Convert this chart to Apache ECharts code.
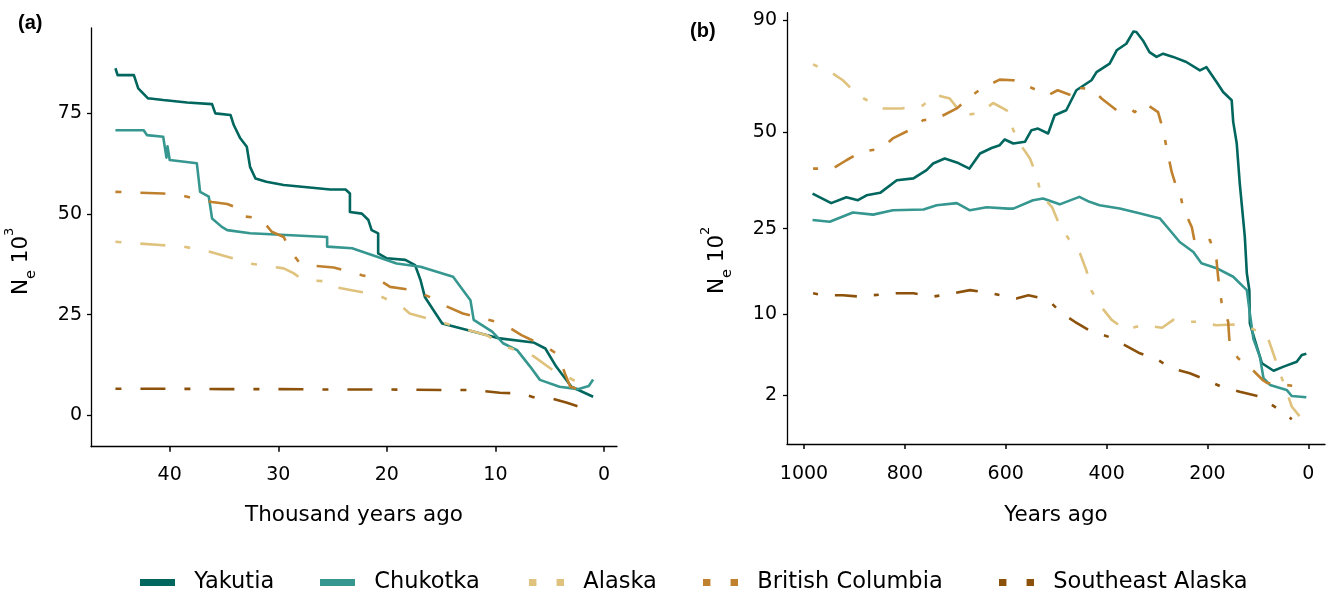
<!DOCTYPE html>
<html><head><meta charset="utf-8">
<script src="https://cdn.jsdelivr.net/npm/echarts@6/dist/echarts.min.js"></script>
<style>html,body{margin:0;padding:0;background:#fff}#c{width:1333px;height:593px}</style>
</head><body><div id="c"></div>
<script>
// ---------- Panel (a): thousand years ago vs Ne (x10^3) ----------
const aYakX = [45.0, 44.8, 43.3, 42.9, 42.0, 41.8, 40.6, 38.4, 36.1, 35.8, 34.4, 34.1, 33.5, 32.9, 32.6, 32.1, 31.1, 29.5, 25.2, 23.8, 23.4, 23.4, 22.3, 21.7, 21.4, 20.8, 20.8, 20.0, 18.3, 17.4, 16.9, 16.5, 14.9, 12.6, 9.6, 6.5, 5.4, 4.4, 3.0, 1.0];
const aYakY = [86.2, 84.5, 84.5, 81.2, 78.7, 78.7, 78.3, 77.7, 77.3, 75.0, 74.6, 72.1, 68.8, 66.7, 61.7, 58.8, 58.0, 57.2, 56.1, 56.1, 55.1, 50.5, 50.1, 48.5, 46.0, 45.2, 40.2, 39.0, 38.6, 37.3, 33.6, 29.4, 22.8, 21.2, 19.1, 18.1, 16.6, 12.1, 7.1, 4.6];
const aChuX = [45.0, 42.4, 42.1, 40.6, 40.3, 40.2, 40.0, 37.5, 37.2, 36.4, 36.1, 35.2, 34.7, 32.6, 25.5, 25.5, 23.2, 20.9, 19.1, 16.9, 13.9, 12.3, 12.0, 10.3, 9.3, 8.0, 6.8, 5.9, 4.1, 2.4, 1.4, 1.0];
const aChuY = [70.8, 70.8, 69.6, 69.2, 64.0, 66.8, 63.4, 62.6, 55.5, 54.3, 48.9, 46.8, 46.0, 45.2, 44.3, 41.9, 41.5, 39.4, 37.7, 36.9, 34.4, 28.6, 23.7, 20.8, 17.9, 16.2, 12.1, 8.8, 7.1, 6.5, 7.3, 8.9];
const aAlaX = [45.0, 40.9, 38.7, 36.3, 34.7, 32.6, 29.5, 28.6, 27.7, 25.2, 24.9, 22.5, 20.9, 18.8, 17.9, 15.1, 10.8, 9.0, 6.5, 4.7, 3.7, 2.5, 1.6];
const aAlaY = [43.1, 42.3, 41.9, 40.6, 39.4, 37.7, 36.5, 35.3, 33.6, 33.2, 31.9, 30.7, 29.9, 27.4, 25.3, 23.2, 19.9, 17.0, 14.7, 11.2, 10.0, 8.3, 8.5];
const aBCX = [45.0, 40.6, 38.7, 37.5, 36.1, 34.7, 33.7, 33.5, 31.5, 31.1, 30.6, 29.5, 28.9, 28.0, 26.5, 24.9, 22.3, 20.9, 19.7, 17.6, 15.7, 14.8, 13.0, 9.3, 7.6, 5.3, 4.2, 3.6, 3.1, 2.4];
const aBCY = [55.5, 55.1, 54.5, 53.6, 53.0, 52.5, 51.4, 49.5, 48.9, 47.2, 45.6, 44.3, 41.0, 37.7, 37.1, 36.7, 34.8, 34.0, 31.9, 31.1, 29.0, 27.4, 25.3, 22.8, 19.9, 17.0, 15.0, 10.4, 7.1, 6.5];
const aSEX = [45.0, 40.0, 35.0, 30.0, 25.0, 20.0, 15.0, 12.0, 9.6, 7.5, 6.5, 4.8, 3.4, 2.5, 1.9];
const aSEY = [6.6, 6.6, 6.5, 6.5, 6.4, 6.4, 6.3, 6.3, 5.6, 5.4, 4.5, 4.2, 3.1, 2.3, 1.8];
const aXTicks = [0, 10, 20, 30, 40];
const aYTicks = [0, 25, 50, 75];

// ---------- Panel (b): years ago vs Ne (x10^2), square-root y scale ----------
const bYakX = [983, 946, 916, 893, 876, 849, 816, 783, 757, 744, 721, 697, 672, 651, 628, 612, 602, 585, 562, 549, 536, 516, 503, 480, 460, 430, 420, 394, 380, 361, 347, 341, 328, 315, 301, 288, 268, 242, 215, 202, 182, 169, 152, 149, 142, 136, 126, 122, 117, 116, 102, 92, 69, 49, 23, 13, 4];
const bYakY = [33.1, 30.8, 32.2, 31.5, 32.7, 33.3, 36.5, 37.0, 39.2, 41.0, 42.4, 41.3, 39.6, 43.8, 45.4, 46.2, 47.9, 46.7, 47.2, 50.7, 51.2, 49.7, 55.4, 57.0, 63.7, 67.2, 70.1, 73.2, 78.2, 80.7, 85.5, 85.3, 82.0, 77.5, 75.7, 76.9, 75.7, 73.8, 70.7, 71.9, 66.6, 63.1, 60.3, 53.3, 46.7, 35.7, 23.3, 16.3, 13.5, 8.75, 6.0, 4.4, 3.75, 4.1, 4.54, 5.18, 5.3];
const bChuX = [983, 949, 903, 863, 824, 763, 737, 697, 671, 638, 595, 585, 546, 526, 493, 454, 434, 414, 374, 335, 294, 275, 255, 228, 212, 182, 149, 122, 116, 109, 96, 89, 76, 43, 33, 4];
const bChuY = [26.9, 26.5, 28.6, 28.1, 29.1, 29.3, 30.3, 30.8, 29.1, 29.8, 29.5, 29.5, 31.5, 31.9, 30.5, 32.3, 31.1, 30.3, 29.5, 28.4, 27.2, 24.7, 22.2, 20.2, 18.1, 17.2, 15.7, 13.5, 10.1, 6.9, 5.0, 3.15, 2.66, 2.32, 1.94, 1.86];
const bAlaX = [982, 943, 923, 893, 863, 843, 807, 764, 741, 711, 685, 651, 625, 598, 585, 569, 552, 539, 530, 508, 493, 475, 453, 440, 430, 413, 390, 364, 328, 290, 268, 255, 221, 182, 150, 116, 82, 70, 56, 49, 33, 4];
const bAlaY = [72.9, 69.6, 67.2, 62.0, 59.2, 57.6, 57.6, 58.6, 62.2, 60.9, 55.4, 56.1, 59.4, 57.0, 50.7, 46.0, 42.4, 37.8, 32.8, 29.8, 25.7, 22.8, 20.0, 16.8, 13.4, 11.2, 9.2, 8.0, 8.5, 8.2, 9.2, 8.95, 8.95, 8.5, 8.6, 8.2, 7.3, 5.4, 3.5, 2.8, 1.36, 0.6];
const bBCX = [982, 943, 916, 886, 847, 824, 794, 764, 737, 697, 671, 648, 612, 585, 552, 526, 516, 497, 459, 453, 427, 410, 380, 354, 344, 324, 298, 288, 280, 271, 261, 255, 248, 231, 225, 215, 195, 182, 179, 172, 159, 156, 140, 110, 90, 82, 56, 30, 13];
const bBCY = [39.6, 39.6, 41.9, 44.3, 45.2, 48.2, 50.5, 53.8, 54.3, 57.6, 61.4, 64.3, 67.4, 67.2, 64.8, 62.8, 62.0, 63.7, 61.3, 64.5, 64.0, 60.9, 57.0, 57.6, 56.4, 59.3, 56.4, 50.7, 44.7, 38.7, 34.5, 33.5, 29.5, 25.3, 22.0, 22.0, 22.6, 18.6, 15.7, 11.6, 8.95, 6.3, 4.9, 3.8, 3.0, 2.8, 2.7, 2.6, 2.6];
const bSEX = [982, 960, 923, 890, 850, 816, 783, 744, 710, 671, 628, 579, 555, 516, 489, 463, 433, 387, 364, 334, 298, 271, 235, 202, 173, 136, 96, 67, 43, 33];
const bSEY = [13.0, 12.7, 12.7, 12.5, 12.8, 13.0, 13.0, 12.5, 12.9, 13.5, 13.0, 12.2, 12.7, 12.0, 10.1, 8.95, 7.84, 6.94, 6.2, 5.35, 4.7, 3.96, 3.54, 3.02, 2.54, 2.2, 1.9, 1.35, 0.97, 0.79];
const bXTicks = [0, 200, 400, 600, 800, 1000];
const bYTicks = [2, 10, 25, 50, 90];

const names = ['Yakutia', 'Chukotka', 'Alaska', 'British Columbia', 'Southeast Alaska'];
const colors = ['#01665e', '#35978f', '#dfc27d', '#bf812d', '#8c510a'];

// ---------- build ----------
const FONT = 'DejaVu Sans';
const dashA = [6, 19, 25, 19];
const dashB = [5, 17, 22, 17];
function mk(idx, xs, ys, panel) {
  const solid = idx < 2;
  return {
    type: 'line', name: names[idx], xAxisIndex: panel, yAxisIndex: panel,
    symbol: 'none', showSymbol: false, silent: true, animation: false,
    emphasis: { disabled: true },
    data: xs.map((x, i) => [x, panel ? Math.sqrt(ys[i]) : ys[i]]),
    lineStyle: { color: colors[idx], width: 2.6, type: solid ? 'solid' : (panel ? dashB : dashA), cap: 'butt', join: 'round' },
    itemStyle: { color: colors[idx] }
  };
}
const series = [
  mk(0, aYakX, aYakY, 0), mk(1, aChuX, aChuY, 0), mk(2, aAlaX, aAlaY, 0), mk(3, aBCX, aBCY, 0), mk(4, aSEX, aSEY, 0),
  mk(0, bYakX, bYakY, 1), mk(1, bChuX, bChuY, 1), mk(2, bAlaX, bAlaY, 1), mk(3, bBCX, bBCY, 1), mk(4, bSEX, bSEY, 1)
];

const axLine = { show: true, onZero: false, lineStyle: { color: '#000', width: 1.3 } };
const lblStyle = { color: '#000', fontFamily: FONT, fontSize: 19 };
function yName(shift) {
  return {
    color: '#000', fontFamily: FONT, fontSize: 21.5, padding: [0, shift, 0, 0],
    rich: {
      a: { fontFamily: FONT, fontSize: 21.5, color: '#000', lineHeight: 36, verticalAlign: 'middle' },
      b: { fontFamily: FONT, fontSize: 14.5, color: '#000', lineHeight: 13, verticalAlign: 'bottom' },
      c: { fontFamily: FONT, fontSize: 13, color: '#000', lineHeight: 32, verticalAlign: 'top' }
    }
  };
}

const legendLefts = [140, 320, 529, 703, 999];
const solidIcon = 'rect';
const dashIcon = 'path://M0 0H7V7H0Z M26 0H33V7H26Z';
const legends = names.map((n, i) => ({
  data: [n], left: legendLefts[i], top: 571, padding: 0, itemWidth: 35, itemHeight: 7,
  selectedMode: false, icon: i < 2 ? solidIcon : dashIcon, symbolKeepAspect: false,
  formatter: (s) => '  ' + s,
  textStyle: { color: '#000', fontFamily: FONT, fontSize: 22.5 }
}));

const option = {
  animation: false,
  backgroundColor: '#fff',
  grid: [
    { left: 91, right: 716, top: 28, bottom: 146.3 },
    { left: 787, right: 8, top: 12.7, bottom: 149 }
  ],
  xAxis: [
    { gridIndex: 0, type: 'value', min: -1.2, max: 47.25, inverse: true,
      axisLine: axLine, splitLine: { show: false },
      axisTick: { show: true, length: 5, customValues: aXTicks, lineStyle: { color: '#000', width: 1.5 } },
      axisLabel: Object.assign({ customValues: aXTicks, margin: 19, formatter: (v) => String(v) }, lblStyle),
      name: 'Thousand years ago', nameLocation: 'middle', nameGap: 57.5,
      nameTextStyle: { color: '#000', fontFamily: FONT, fontSize: 21.5 } },
    { gridIndex: 1, type: 'value', min: -33, max: 1033.7, inverse: true,
      axisLine: axLine, splitLine: { show: false },
      axisTick: { show: true, length: 5, customValues: bXTicks, lineStyle: { color: '#000', width: 1.5 } },
      axisLabel: Object.assign({ customValues: bXTicks, margin: 20.5, formatter: (v) => String(v) }, lblStyle),
      name: 'Years ago', nameLocation: 'middle', nameGap: 60.3,
      nameTextStyle: { color: '#000', fontFamily: FONT, fontSize: 21.5 } }
  ],
  yAxis: [
    { gridIndex: 0, type: 'value', min: -7.8, max: 96.2,
      axisLine: axLine, splitLine: { show: false },
      axisTick: { show: true, length: 4, customValues: aYTicks, lineStyle: { color: '#000', width: 1.3 } },
      axisLabel: Object.assign({ customValues: aYTicks, margin: 9, formatter: (v) => String(v) }, lblStyle),
      name: '{a|N}{b|e}{a| 10}{c|3}', nameLocation: 'middle', nameGap: 52,
      nameTextStyle: yName(48) },
    { gridIndex: 1, type: 'value', min: Math.sqrt(0.128), max: 9.653,
      axisLine: axLine, splitLine: { show: false },
      axisTick: { show: true, length: 4, customValues: bYTicks.map(Math.sqrt), lineStyle: { color: '#000', width: 1.3 } },
      axisLabel: Object.assign({ customValues: bYTicks.map(Math.sqrt), margin: 10,
        formatter: (v) => String(Math.round(v * v)) }, lblStyle),
      name: '{a|N}{b|e}{a| 10}{c|2}', nameLocation: 'middle', nameGap: 52,
      nameTextStyle: yName(64) }
  ],
  legend: legends,
  graphic: [
    { type: 'text', left: 18, top: 13, style: { text: '(a)', fill: '#000', font: 'bold 20px "Liberation Sans"' } },
    { type: 'text', left: 690, top: 21, style: { text: '(b)', fill: '#000', font: 'bold 20px "Liberation Sans"' } }
  ],
  series: series
};
const chart = echarts.init(document.getElementById('c'), null, { renderer: 'canvas' });
chart.setOption(option);
</script></body></html>
